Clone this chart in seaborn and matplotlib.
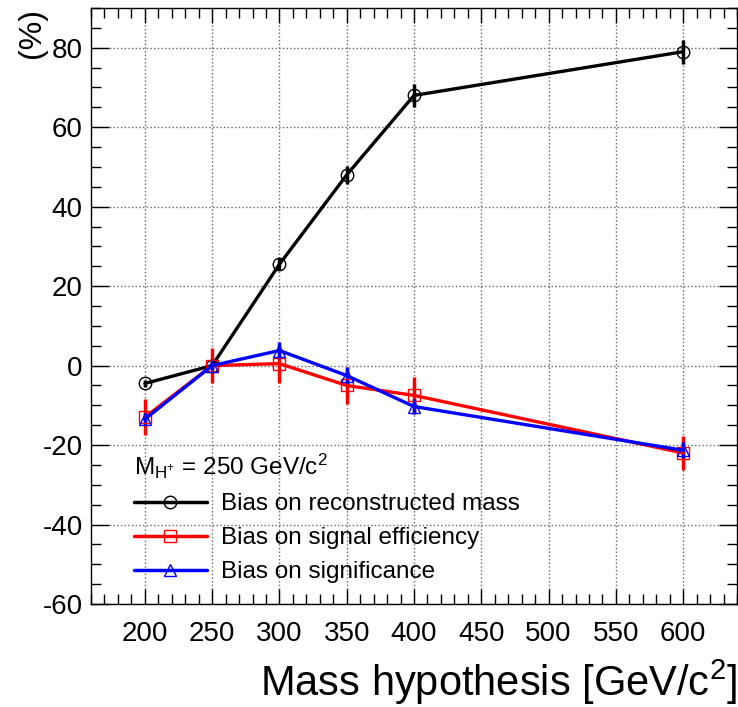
import numpy as np
import pandas as pd
import matplotlib
matplotlib.use('Agg')
import matplotlib.pyplot as plt
from matplotlib.ticker import MultipleLocator
from matplotlib.lines import Line2D
import seaborn as sns

# ==========================================
# DATA
# ==========================================
mass_points = [200, 250, 300, 350, 400, 600]

bias_mass = [-4.5, 0.0, 25.5, 48.0, 68.0, 79.0]
bias_mass_err = [0.8, 0.8, 1.5, 2.2, 2.8, 3.0]

bias_eff = [-13.0, 0.0, 0.5, -5.0, -7.5, -22.0]
bias_eff_err = [4.5, 4.5, 4.8, 4.6, 4.6, 4.3]

bias_sig = [-13.5, 0.0, 3.8, -2.5, -10.3, -21.3]
bias_sig_err = [1.5, 1.2, 2.2, 2.2, 2.0, 2.0]

series_names = ['Bias on reconstructed mass', 'Bias on signal efficiency', 'Bias on significance']
series_colors = ['black', 'red', 'blue']
series_markers = ['o', 's', '^']

df = pd.DataFrame({
    'mass': mass_points * 3,
    'bias': bias_mass + bias_eff + bias_sig,
    'err': bias_mass_err + bias_eff_err + bias_sig_err,
    'series': [series_names[0]] * 6 + [series_names[1]] * 6 + [series_names[2]] * 6,
})

# ==========================================
# STYLE
# ==========================================
sns.set_style('ticks')
plt.rcParams['font.family'] = ['Liberation Sans', 'DejaVu Sans']
plt.rcParams['mathtext.default'] = 'regular'
plt.rcParams['axes.unicode_minus'] = False
plt.rcParams['xtick.direction'] = 'in'
plt.rcParams['ytick.direction'] = 'in'
for key in ['text.color', 'axes.labelcolor', 'xtick.color', 'ytick.color', 'axes.edgecolor']:
    plt.rcParams[key] = 'black'

fig = plt.figure(figsize=(7.38, 7.07), dpi=100)
ax = fig.add_axes([91 / 738, 1 - 604 / 707, (737 - 91) / 738, (604 - 8) / 707])

for name, col, mk in zip(series_names, series_colors, series_markers):
    sub = df[df['series'] == name]
    ax.errorbar(sub['mass'], sub['bias'], yerr=sub['err'], fmt='none',
                ecolor=col, elinewidth=2.5, capsize=0, zorder=2)
    sns.lineplot(data=sub, x='mass', y='bias', ax=ax, color=col, lw=2.4,
                 marker=mk, markersize=9, markerfacecolor='none',
                 markeredgecolor=col, markeredgewidth=1.0, zorder=3,
                 estimator=None, sort=False, legend=False)

ax.set_xlim(160, 640)
ax.set_ylim(-60, 90)
ax.xaxis.set_major_locator(MultipleLocator(50))
ax.xaxis.set_minor_locator(MultipleLocator(10))
ax.yaxis.set_major_locator(MultipleLocator(20))
ax.yaxis.set_minor_locator(MultipleLocator(5))
ax.set_xticks([200, 250, 300, 350, 400, 450, 500, 550, 600])

ax.tick_params(which='both', top=True, right=True, labelsize=20, width=1.0)
ax.tick_params(axis='x', which='major', pad=12, length=11)
ax.tick_params(axis='y', which='major', pad=6, length=13)
ax.tick_params(which='minor', length=7)
ax.grid(True, which='major', linestyle=':', color='#666666', lw=1.0)

for sp in ax.spines.values():
    sp.set_linewidth(1.0)

ax.set_xlabel('Mass hypothesis [GeV/c$^{2}$]', fontsize=30, loc='right', labelpad=8)
ax.set_ylabel('(%)', fontsize=23, loc='top', labelpad=-3)

# legend
handles = [Line2D([0], [0], color=c, lw=2.5, marker=m, markersize=9,
                  markerfacecolor='none', markeredgecolor=c, markeredgewidth=1.0)
           for c, m in zip(series_colors, series_markers)]
leg = ax.legend(handles, series_names, loc='upper left',
                bbox_to_anchor=(112 / 738, 1 - 430 / 707), bbox_transform=fig.transFigure,
                frameon=False, fontsize=17.5, handlelength=3.0, handletextpad=0.6,
                labelspacing=0.5,
                title=r'M$_{H^{+}}$ = 250 GeV/c$^{2}$', title_fontsize=17.5,
                alignment='left')

fig.savefig('out.png', dpi=100)
